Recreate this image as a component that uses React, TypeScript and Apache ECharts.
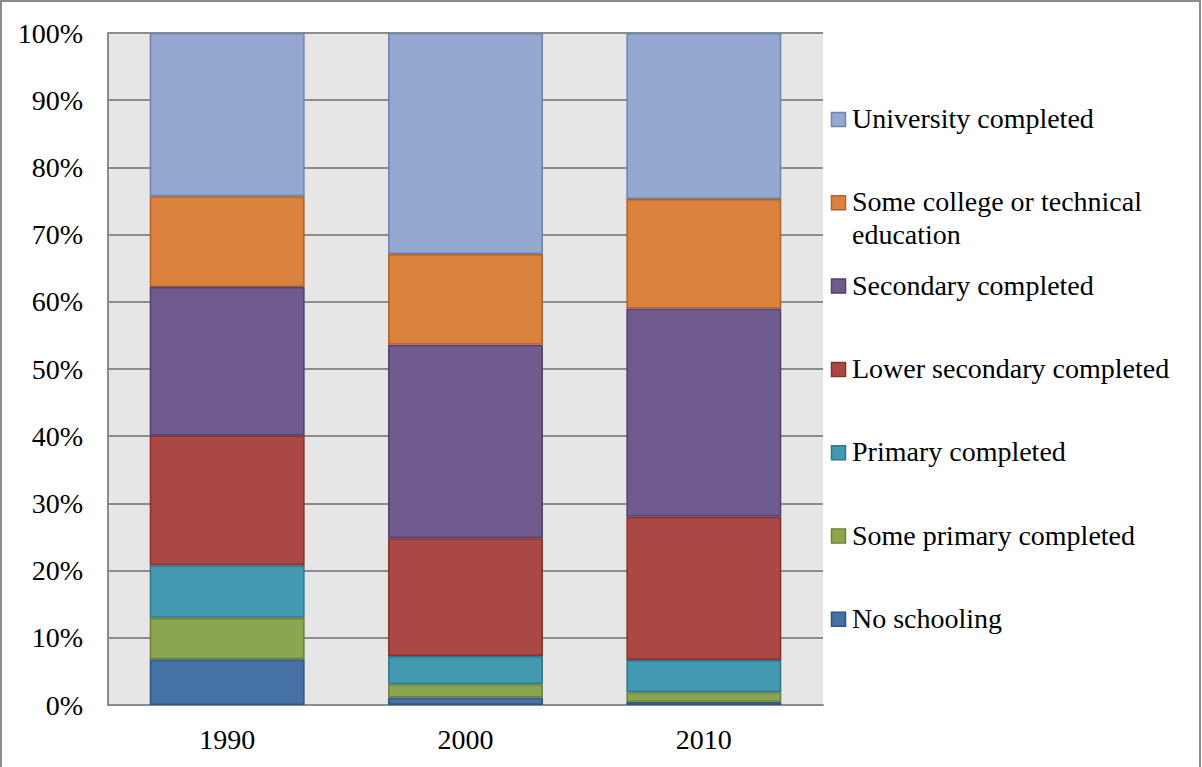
import React, { useEffect, useRef } from "react";
import * as echarts from "echarts";

// Years on the category axis
const YEARS = ["1990", "2000", "2010"];

// Share of population (%) by highest education level, stacked bottom to top
const NO_SCHOOLING = [6.8, 1.1, 0.5];
const SOME_PRIMARY = [6.2, 2.0, 1.4];
const PRIMARY = [7.8, 4.2, 4.8];
const LOWER_SECONDARY = [19.3, 17.5, 21.3];
const SECONDARY = [22.1, 28.8, 31.0];
const SOME_COLLEGE = [13.5, 13.5, 16.3];
const UNIVERSITY = [24.3, 32.9, 24.7];

const SERIES_NAMES = [
  "No schooling",
  "Some primary completed",
  "Primary completed",
  "Lower secondary completed",
  "Secondary completed",
  "Some college or technical education",
  "University completed",
];

// Legend text, wrapped where the legend column is too narrow
const LEGEND_LABELS = [
  "No schooling",
  "Some primary completed",
  "Primary completed",
  "Lower secondary completed",
  "Secondary completed",
  "Some college or technical\neducation",
  "University completed",
];

const FILLS = ["#4571A6", "#8BA64F", "#4299B0", "#AA4845", "#715A8E", "#DB833E", "#95A9D0"];
const EDGES = ["#2F5584", "#6A8236", "#2E7789", "#86302E", "#50406A", "#B0622A", "#6F83AB"];

const FONT = "'Liberation Serif', 'Times New Roman', serif";

export default function App() {
  const ref = useRef<HTMLDivElement>(null);

  useEffect(() => {
    if (!ref.current) return;
    const chart = echarts.init(ref.current, undefined, { renderer: "svg" });

    const values = [NO_SCHOOLING, SOME_PRIMARY, PRIMARY, LOWER_SECONDARY, SECONDARY, SOME_COLLEGE, UNIVERSITY];

    const series = values.map((data, i) => ({
      name: SERIES_NAMES[i],
      type: "bar",
      stack: "total",
      barCategoryGap: "35%",
      data,
      itemStyle: { color: FILLS[i], borderColor: EDGES[i], borderWidth: 1.5 },
    }));

    // Legend column on the right, listed top (last series) to bottom (first series)
    const legendTop = 112;
    const legendStep = 83.3;
    const marker = 15;
    const legendGraphics: any[] = [];
    for (let k = 0; k < SERIES_NAMES.length; k++) {
      const i = SERIES_NAMES.length - 1 - k;
      const top = legendTop + k * legendStep;
      const lines = LEGEND_LABELS[i].split("\n").length;
      legendGraphics.push({
        type: "rect",
        shape: { x: 831.5, y: top + 0.5, width: marker - 1, height: marker - 1 },
        style: { fill: FILLS[i], stroke: EDGES[i], lineWidth: 1.5 },
      });
      legendGraphics.push({
        type: "text",
        x: 852,
        y: top + marker / 2 - 1 + ((lines - 1) * 33) / 2,
        style: {
          text: LEGEND_LABELS[i],
          font: `28px ${FONT}`,
          fill: "#000",
          verticalAlign: "middle",
          align: "left",
          lineHeight: 33,
        },
      });
    }

    chart.setOption({
      animation: false,
      backgroundColor: "#fff",
      textStyle: { fontFamily: FONT },
      grid: { left: 108, top: 33, right: 379, bottom: 62, show: true, backgroundColor: "#E6E6E6", borderWidth: 0 },
      xAxis: {
        type: "category",
        data: YEARS,
        axisLine: { show: true, lineStyle: { color: "#8C8C8C", width: 2 } },
        axisTick: { show: false },
        axisLabel: { color: "#000", fontSize: 28, fontFamily: FONT, margin: 20 },
      },
      yAxis: {
        type: "value",
        min: 0,
        max: 100,
        interval: 10,
        axisLine: { show: true, lineStyle: { color: "#8C8C8C", width: 2 } },
        axisTick: { show: false },
        splitLine: { show: true, lineStyle: { color: "#8C8C8C", width: 2 } },
        axisLabel: { color: "#000", fontSize: 28, fontFamily: FONT, margin: 25, formatter: "{value}%" },
      },
      series,
      graphic: [
        {
          type: "rect",
          shape: { x: 1, y: 1, width: 1199, height: 780 },
          style: { fill: "none", stroke: "#8C8C8C", lineWidth: 2 },
          silent: true,
        },
        ...legendGraphics,
      ],
    });

    return () => chart.dispose();
  }, []);

  return <div ref={ref} style={{ position: "fixed", left: 0, top: 0, width: 1202, height: 767 }} />;
}
